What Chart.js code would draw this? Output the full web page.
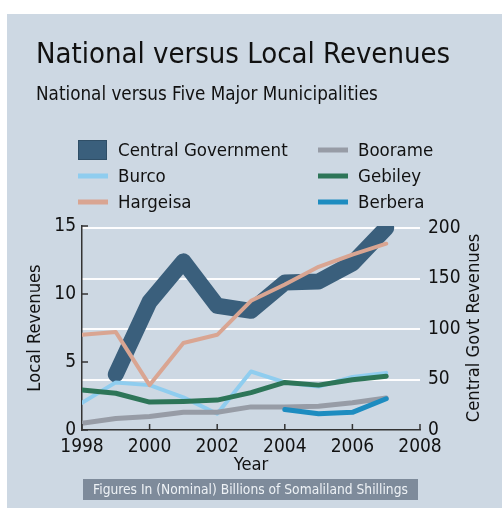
<!DOCTYPE html>
<html><head><meta charset="utf-8">
<script src="https://cdn.jsdelivr.net/npm/chart.js@4/dist/chart.umd.min.js"></script>
<style>html,body{margin:0;padding:0;background:#fff;overflow:hidden}#c{display:block}</style>
</head><body>
<canvas id="c" width="502" height="510"></canvas>
<script>
const years = [1998, 1999, 2000, 2001, 2002, 2003, 2004, 2005, 2006, 2007];
const centralGovt = [null, 55, 127, 167, 123, 118, 146, 147, 165, 200];
const burco = [2.0, 3.5, 3.3, 2.4, 1.2, 4.3, 3.5, 3.2, 3.9, 4.2];
const hargeisa = [7.0, 7.2, 3.3, 6.4, 7.0, 9.5, 10.7, 12.0, 12.9, 13.7];
const boorame = [0.5, 0.85, 1.0, 1.3, 1.3, 1.7, 1.7, 1.75, 2.0, 2.35];
const gebiley = [2.95, 2.7, 2.05, 2.1, 2.2, 2.75, 3.5, 3.3, 3.7, 3.95];
const berbera = [null, null, null, null, null, null, 1.5, 1.2, 1.3, 2.3];
const xTicks = [1998, 2000, 2002, 2004, 2006, 2008];
const leftTicks = [0, 5, 10, 15];
const rightTicks = [0, 50, 100, 150, 200];
const titleText = 'National versus Local Revenues';
const subtitleText = 'National versus Five Major Municipalities';
const rightAxisTitle = 'Central Govt Revenues';
const footnoteText = 'Figures In (Nominal) Billions of Somaliland Shillings';

const FF = "'DejaVu Sans Condensed', 'DejaVu Sans', sans-serif";
const TXT = '#111111';

const mk = (label, vals, color, width, axis, order) => ({
  label, data: vals.map((v, i) => ({x: years[i], y: v})),
  borderColor: color, backgroundColor: color, borderWidth: width,
  yAxisID: axis, order, pointRadius: 0, pointHoverRadius: 0, tension: 0,
  borderJoinStyle: 'round', borderCapStyle: 'round', fill: false, spanGaps: false
});

const datasets = [
  mk('Central Government', centralGovt, '#3a5f7c', 16, 'yR', 10),
  mk('Burco', burco, '#8fcdef', 4, 'yL', 6),
  mk('Hargeisa', hargeisa, '#d9a592', 4, 'yL', 2),
  mk('Boorame', boorame, '#979ca6', 5, 'yL', 5),
  mk('Gebiley', gebiley, '#2d7558', 5, 'yL', 4),
  mk('Berbera', berbera, '#1d8cc0', 5, 'yL', 3)
];
const legendColumns = [[0, 1, 2], [3, 4, 5]];

const bgPlugin = {
  id: 'bg',
  beforeDraw(chart) {
    const c = chart.ctx;
    c.save();
    c.fillStyle = '#ffffff';
    c.fillRect(0, 0, chart.width, chart.height);
    c.fillStyle = '#cdd8e3';
    c.fillRect(7, 14, 495, 494);
    c.restore();
  }
};

const decoPlugin = {
  id: 'deco',
  afterDraw(chart) {
    const c = chart.ctx;
    const ca = chart.chartArea;
    c.save();
    // inward ticks
    c.strokeStyle = '#333';
    c.lineWidth = 1.5;
    const yl = chart.scales.yL, xs = chart.scales.x;
    yl.ticks.forEach(t => {
      const y = yl.getPixelForValue(t.value);
      c.beginPath(); c.moveTo(ca.left, y); c.lineTo(ca.left + 6, y); c.stroke();
    });
    xs.ticks.forEach(t => {
      const x = xs.getPixelForValue(t.value);
      c.beginPath(); c.moveTo(x, ca.bottom); c.lineTo(x, ca.bottom - 6); c.stroke();
    });
    // right axis title, reading bottom to top
    c.save();
    c.translate(474, (ca.top + ca.bottom) / 2);
    c.rotate(-Math.PI / 2);
    c.fillStyle = TXT;
    c.font = '18.2px ' + FF;
    c.textAlign = 'center';
    c.textBaseline = 'middle';
    c.fillText(rightAxisTitle, 0, 0);
    c.restore();
    // titles
    c.fillStyle = TXT;
    c.textBaseline = 'alphabetic';
    c.textAlign = 'left';
    c.font = '29px ' + FF;
    c.fillText(titleText, 36, 63);
    c.font = '18.7px ' + FF;
    c.fillText(subtitleText, 36, 100);
    // legend
    const colX = [78, 318];
    const rowY = [150, 176, 202];
    c.font = '18.5px ' + FF;
    c.textBaseline = 'middle';
    legendColumns.forEach((col, ci) => {
      col.forEach((di, ri) => {
        const ds = chart.data.datasets[di];
        const x = colX[ci], y = rowY[ri];
        if (ds.borderWidth > 10) {
          c.fillStyle = ds.borderColor;
          c.fillRect(x, y - 10, 29, 20);
          c.strokeStyle = '#2f4e66';
          c.lineWidth = 1;
          c.strokeRect(x + 0.5, y - 9.5, 28, 19);
        } else {
          c.strokeStyle = ds.borderColor;
          c.lineWidth = 5;
          c.lineCap = 'butt';
          c.beginPath(); c.moveTo(x, y); c.lineTo(x + 30, y); c.stroke();
        }
        c.fillStyle = TXT;
        c.fillText(ds.label, x + 40, y + 1);
      });
    });
    // footnote
    c.fillStyle = '#7e8b9b';
    c.fillRect(83, 479, 335, 21);
    c.fillStyle = '#eef2f6';
    c.font = '13.7px ' + FF;
    c.textAlign = 'center';
    c.textBaseline = 'middle';
    c.fillText(footnoteText, 250.5, 490);
    c.restore();
  }
};

const tickFont = {family: FF, size: 19};
const axisTitleFont = {family: FF, size: 18.2};

new Chart(document.getElementById('c'), {
  type: 'line',
  data: {datasets},
  options: {
    responsive: false,
    devicePixelRatio: 1,
    animation: false,
    layout: {padding: {top: 226, left: 0, right: 0, bottom: 34}},
    plugins: {legend: {display: false}, tooltip: {enabled: false}, title: {display: false}},
    scales: {
      x: {
        type: 'linear', position: 'bottom', min: 1998, max: 2008,
        afterBuildTicks: s => { s.ticks = xTicks.map(v => ({value: v})); },
        afterFit: s => { s.height = 46; },
        ticks: {font: tickFont, color: TXT, padding: 6, maxRotation: 0, autoSkip: false, callback: v => String(v)},
        grid: {display: false, drawTicks: false},
        border: {display: true, color: '#333', width: 1.5},
        title: {display: true, text: 'Year', font: axisTitleFont, color: TXT, padding: {top: 0, bottom: 0}}
      },
      yL: {
        type: 'linear', position: 'left', min: 0, max: 15,
        afterBuildTicks: s => { s.ticks = leftTicks.map(v => ({value: v})); },
        afterFit: s => { s.width = 82; },
        ticks: {font: tickFont, color: TXT, padding: 6},
        grid: {display: false, drawTicks: false},
        border: {display: true, color: '#333', width: 1.5},
        title: {display: true, text: 'Local Revenues', font: axisTitleFont, color: TXT, padding: {top: 24, bottom: 0}}
      },
      yR: {
        type: 'linear', position: 'right', min: 0, max: 202,
        afterBuildTicks: s => { s.ticks = rightTicks.map(v => ({value: v})); },
        afterFit: s => { s.width = 82; },
        ticks: {font: tickFont, color: TXT, padding: 8},
        grid: {display: true, drawOnChartArea: true, drawTicks: false, lineWidth: 2,
               color: ctx => (ctx.tick && ctx.tick.value === 0) ? 'rgba(0,0,0,0)' : 'rgba(255,255,255,0.95)'},
        border: {display: false},
        title: {display: false}
      }
    }
  },
  plugins: [bgPlugin, decoPlugin]
});
</script>
</body></html>
